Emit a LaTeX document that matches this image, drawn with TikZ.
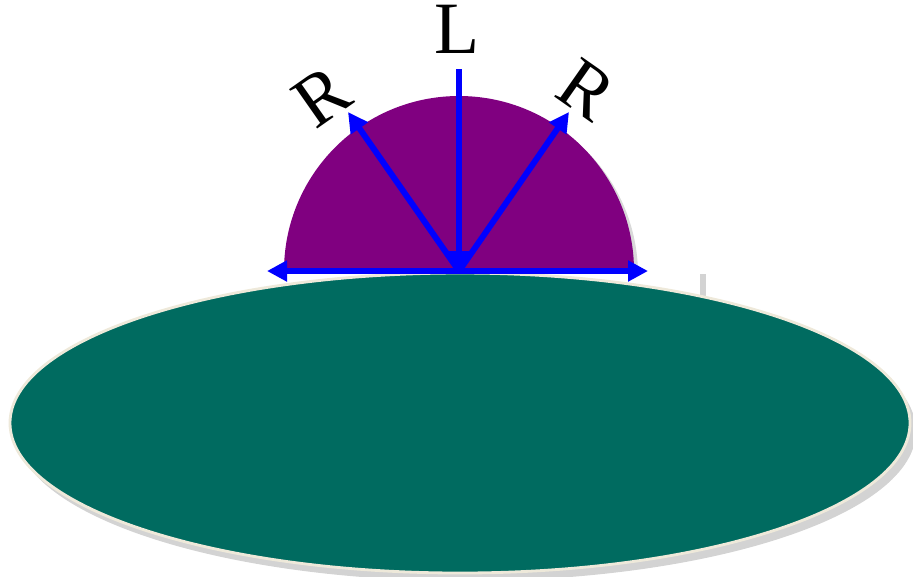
\documentclass[tikz,border=0pt]{standalone}
\usepackage{fontspec}
\setmainfont{Liberation Serif}
\usetikzlibrary{arrows.meta, shadows}
\definecolor{domepurple}{HTML}{800080}
\definecolor{groundgreen}{HTML}{006B60}
\definecolor{rimcream}{HTML}{EEE9DA}
\definecolor{raysblue}{HTML}{0000FF}

\begin{document}
\begin{tikzpicture}[
    dome/.style={fill=domepurple, drop shadow={shadow xshift=0.04cm, shadow yshift=-0.04cm, opacity=0.3}},
    ground/.style={fill=groundgreen, draw=rimcream, line width=0.8pt, drop shadow={shadow xshift=0.06cm, shadow yshift=-0.08cm, opacity=0.35}},
    strip/.style={fill=white, drop shadow={shadow xshift=0.06cm, shadow yshift=-0.04cm, opacity=0.35}},
    ray/.style={-{Triangle[length=0.2cm, width=0.2cm]}, line width=1.7pt, raysblue},
    letter/.style={font=\fontsize{21}{24}\selectfont, inner sep=0pt}
]
\useasboundingbox (0,0) rectangle (9.13,5.76);

% Points
\coordinate (ctr) at (4.59,3.05);
\coordinate (ltop) at (4.59,5.07);
\coordinate (rleft) at (3.48,4.64);
\coordinate (rright) at (5.69,4.64);
\coordinate (hleft) at (2.67,3.05);
\coordinate (hright) at (6.48,3.05);

% Shapes
\fill[dome] (ctr) ++(1.75,0) arc (0:180:1.75) -- cycle;
\fill[strip] (2.34,2.80) rectangle (7.00,3.06);
\path[ground] (4.60,1.53) ellipse (4.50 and 1.50);

% Labels
\node[letter] (lab) at (4.57,5.47) {L};
\node[letter, rotate=35] (rlab1) at (3.22,4.79) {R};
\node[letter, rotate=-35] (rlab2) at (5.87,4.86) {R};

% Arrows
\draw[ray] (ltop) -- (ctr);
\draw[ray] (ctr) -- (rleft);
\draw[ray] (ctr) -- (rright);
\draw[ray] (ctr) -- (hleft);
\draw[ray] (ctr) -- (hright);

\end{tikzpicture}
\end{document}
